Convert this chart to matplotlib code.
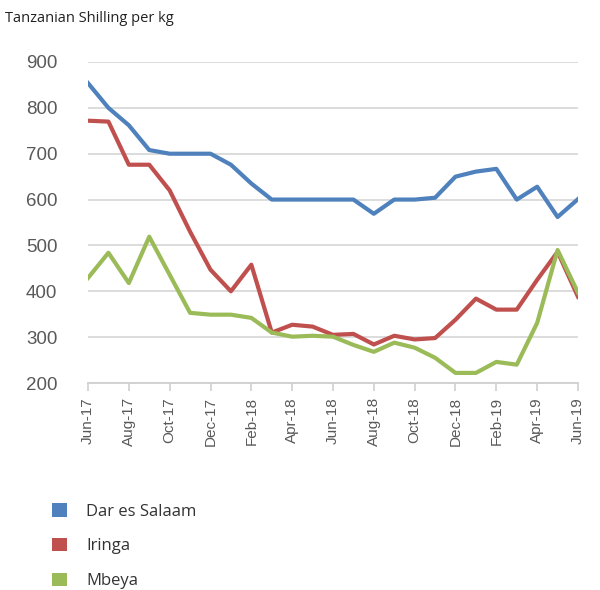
import matplotlib.pyplot as plt
from matplotlib.patches import Patch

plt.rcParams['font.family'] = ['Open Sans', 'DejaVu Sans']

months = ['Jun-17', 'Jul-17', 'Aug-17', 'Sep-17', 'Oct-17', 'Nov-17', 'Dec-17',
          'Jan-18', 'Feb-18', 'Mar-18', 'Apr-18', 'May-18', 'Jun-18', 'Jul-18',
          'Aug-18', 'Sep-18', 'Oct-18', 'Nov-18', 'Dec-18', 'Jan-19', 'Feb-19',
          'Mar-19', 'Apr-19', 'May-19', 'Jun-19']

dar_es_salaam = [854, 800, 762, 708, 700, 700, 700, 676, 635, 600, 600, 600, 600,
                 600, 569, 600, 600, 604, 650, 661, 667, 600, 628, 562, 601]
iringa = [772, 770, 676, 676, 620, 530, 447, 400, 458, 310, 327, 323, 305,
          307, 284, 303, 295, 298, 338, 384, 360, 360, 425, 486, 388]
mbeya = [429, 484, 418, 519, 436, 353, 349, 349, 342, 310, 301, 303, 301,
         283, 268, 288, 277, 255, 222, 222, 246, 240, 331, 490, 397]

series = [('Dar es Salaam', dar_es_salaam, '#4F81BD'),
          ('Iringa', iringa, '#C0504D'),
          ('Mbeya', mbeya, '#9BBB59')]

fig = plt.figure(figsize=(6, 5.9), dpi=100)
ax = fig.add_axes([88 / 600, 1 - 383 / 590, 490 / 600, 321 / 590])

x = list(range(len(months)))
for name, vals, col in series:
    ax.plot(x, vals, color=col, lw=3, solid_joinstyle='round', label=name)

ax.set_xlim(0, len(months) - 1)
ax.set_ylim(200, 900)
ax.set_yticks(range(200, 901, 100))
ax.set_xticks(x[::2])
ax.set_xticklabels(months[::2], rotation=90, family=['Liberation Sans'])
for lbl in ax.get_yticklabels():
    lbl.set_family(['Liberation Sans'])

ax.grid(axis='y', color='#D9D9D9', lw=1.3)
ax.set_axisbelow(True)
for side in ['top', 'right', 'left']:
    ax.spines[side].set_visible(False)
ax.spines['bottom'].set_color('#D0D0D0')
ax.spines['bottom'].set_linewidth(1.3)
ax.tick_params(axis='y', length=0, pad=22, labelsize=13.5, labelcolor='#595959')
ax.tick_params(axis='x', length=6, width=1.2, color='#D0D0D0', pad=4,
               labelsize=11, labelcolor='#595959')

fig.text(5 / 600, 1 - 18 / 590, 'Tanzanian Shilling per kg', fontsize=10.5,
         color='#222222', va='center', ha='left')

handles = [Patch(facecolor=c, edgecolor='none', label=n) for n, _, c in series]
fig.legend(handles=handles, loc='upper left', bbox_to_anchor=(44 / 600, 1 - 495 / 590),
           frameon=False, fontsize=12, handlelength=0.85, handleheight=0.85,
           handletextpad=1.2, labelspacing=1.1, borderpad=0, labelcolor='#333333')

fig.savefig('out.png', dpi=100)
